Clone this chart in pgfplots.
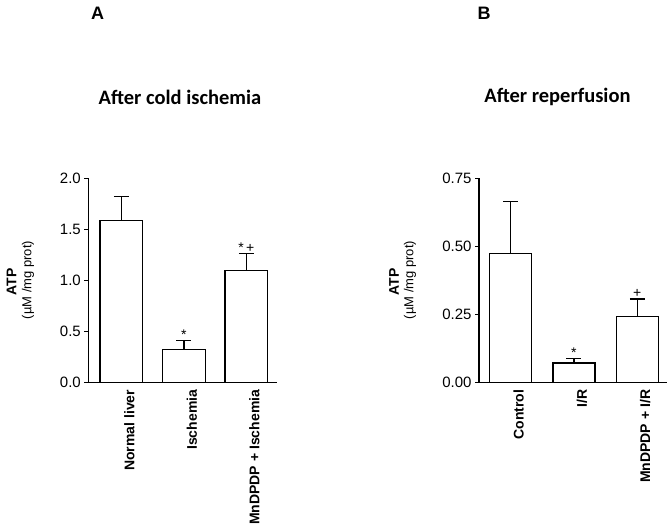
\documentclass[border=0pt]{standalone}
\usepackage{pgfplots}
\pgfplotsset{compat=1.18}
\usepackage{fontspec}
\setmainfont{Liberation Sans}
\newfontfamily\titlefont{Carlito}
\begin{document}
\begin{tikzpicture}[x=1pt,y=1pt]
\path (0,0) rectangle (672,-530);
\node[font=\bfseries\fontsize{18}{18}\selectfont] at (97.5,-13.5) {A};
\node[font=\bfseries\fontsize{18}{18}\selectfont] at (484,-13.5) {B};
\node[font=\titlefont\bfseries\fontsize{20.5}{20.5}\selectfont, anchor=base] at (180,-104) {After cold ischemia};
\node[font=\titlefont\bfseries\fontsize{20.5}{20.5}\selectfont, anchor=base] at (557.5,-102) {After reperfusion};
\node[rotate=90, font=\bfseries\fontsize{14}{14}\selectfont] at (11.5,-282) {ATP};
\node[rotate=90, font=\fontsize{13}{14}\selectfont] at (28,-280) {(µM /mg prot)};
\node[rotate=90, font=\bfseries\fontsize{14}{14}\selectfont] at (394,-282) {ATP};
\node[rotate=90, font=\fontsize{13}{14}\selectfont] at (410,-280) {(µM /mg prot)};
\pgfplotsset{
  myax/.style={
    anchor=south west, scale only axis,
    axis x line=bottom, axis y line=left,
    axis line style={-, line width=1.2pt},
    xtick={1,2,3}, xtick style={draw=none},
    ytick style={line width=1.2pt, black}, tick align=outside, major tick length=4pt,
    xticklabel style={rotate=90, anchor=east, font=\bfseries\fontsize{14}{14}\selectfont, yshift=-8pt},
    yticklabel style={font=\fontsize{15}{15}\selectfont},
    /pgf/number format/assume math mode=true,
    /pgf/number format/fixed, /pgf/number format/zerofill,
    ybar, bar shift=0pt,
    clip=false,
  },
  mybar/.style={fill=white, draw=black, line width=1.2pt,
    error bars/.cd, y dir=plus, y explicit,
    error bar style={line width=1.2pt, black},
    error mark options={rotate=90, mark size=7.5pt, line width=1.2pt, black}},
}
\begin{axis}[myax, at={(88.3pt,-382.3pt)}, width=188.7pt, height=204pt,
  xmin=0.47, xmax=3.49, ymin=0, ymax=2.0, ytick={0,0.5,1.0,1.5,2.0},
  /pgf/number format/precision=1, bar width=42.7pt,
  xticklabels={Normal liver, Ischemia, MnDPDP + Ischemia}]
\addplot[mybar] coordinates {(1,1.59) +- (0,0.23) (2,0.32) +- (0,0.09) (3,1.10) +- (0,0.16)};
\node[font=\fontsize{14}{14}\selectfont, anchor=south, inner sep=1pt] at (axis cs:2,0.41) {*};
\node[font=\fontsize{14}{14}\selectfont, anchor=south, inner sep=1pt] at (axis cs:3,1.26) {*\,+};
\end{axis}
\begin{axis}[myax, at={(479pt,-382.3pt)}, width=188pt, height=204pt,
  xmin=0.50, xmax=3.47, ymin=0, ymax=0.75, ytick={0,0.25,0.5,0.75},
  /pgf/number format/precision=2, bar width=42pt,
  xticklabels={Control, I/R, MnDPDP + I/R}]
\addplot[mybar] coordinates {(1,0.475) +- (0,0.19) (2,0.071) +- (0,0.017) (3,0.241) +- (0,0.065)};
\node[font=\fontsize{14}{14}\selectfont, anchor=south, inner sep=1pt] at (axis cs:2,0.088) {*};
\node[font=\fontsize{14}{14}\selectfont, anchor=south, inner sep=1pt] at (axis cs:3,0.306) {+};
\end{axis}
\end{tikzpicture}
\end{document}
